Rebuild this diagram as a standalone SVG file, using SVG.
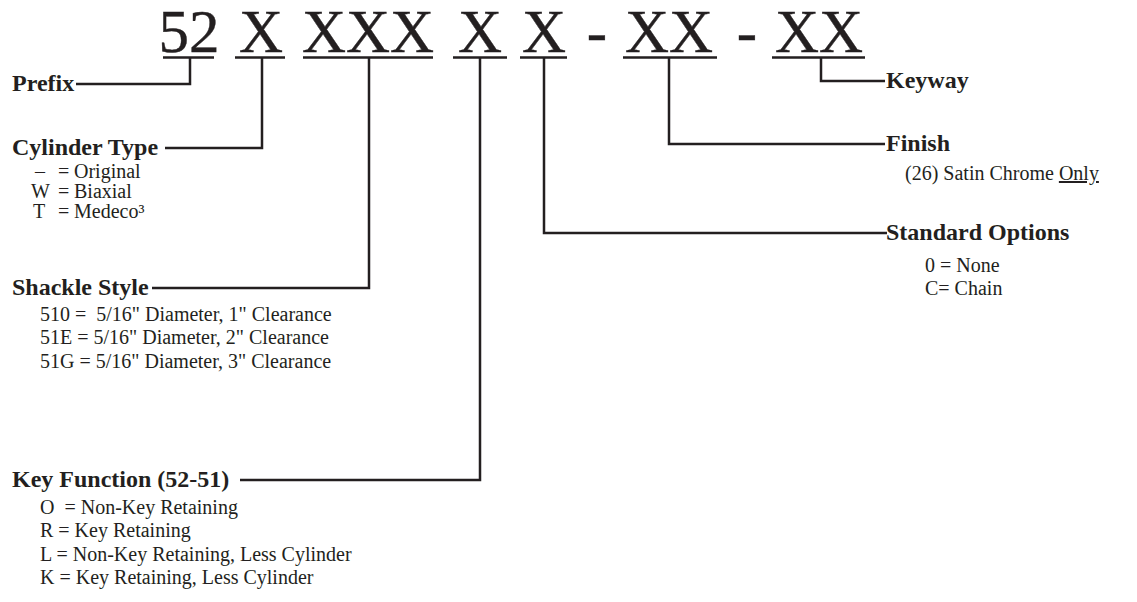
<svg xmlns="http://www.w3.org/2000/svg" width="1137" height="602" viewBox="0 0 1137 602">
<style>
.title{font-family:"Liberation Serif","Times New Roman",serif;font-size:61px;fill:#231f20;stroke:#231f20;stroke-width:0.4;text-anchor:middle}
.head{font-family:"Liberation Serif","Times New Roman",serif;font-size:24px;font-weight:bold;fill:#231f20}
.body{font-family:"Liberation Serif","Times New Roman",serif;font-size:20px;fill:#231f20;white-space:pre}
.ul{stroke:#231f20;stroke-width:2.5;fill:none}
.conn{stroke:#231f20;stroke-width:2.5;fill:none}
</style>
<rect width="1137" height="602" fill="#fff"/>
<g id="code">
<text class="title" x="189" y="52">52</text>
<text class="title" x="261" y="52">X</text>
<text class="title" x="368" y="52">XXX</text>
<text class="title" x="480" y="52">X</text>
<text class="title" x="544" y="52">X</text>
<text class="title" x="597" y="52">-</text>
<text class="title" x="669" y="52">XX</text>
<text class="title" x="747" y="52">-</text>
<text class="title" x="819" y="52">XX</text>
<path class="ul" d="M163,57.5H214M235,57.5H285M303,57.5H433M453,57.5H507M520,57.5H567M623,57.5H717M772,57.5H865"/>
</g>
<g id="connectors">
<path class="conn" d="M190,57.5V84H76"/>
<path class="conn" d="M262,57.5V148H165"/>
<path class="conn" d="M369,57.5V288H152"/>
<path class="conn" d="M480,57.5V480H240"/>
<path class="conn" d="M544,57.5V233H887"/>
<path class="conn" d="M669,57.5V144H885"/>
<path class="conn" d="M821,57.5V81H885"/>
</g>
<g id="prefix">
<text class="head" x="12" y="91">Prefix</text>
</g>
<g id="cylinder-type">
<text class="head" x="12" y="155">Cylinder Type</text>
<text class="body" y="178"><tspan x="35">–</tspan><tspan x="58">=</tspan><tspan x="74">Original</tspan></text>
<text class="body" y="198"><tspan x="31">W</tspan><tspan x="58">=</tspan><tspan x="74">Biaxial</tspan></text>
<text class="body" y="218"><tspan x="33">T</tspan><tspan x="58">=</tspan><tspan x="74">Medeco³</tspan></text>
</g>
<g id="shackle-style">
<text class="head" x="12" y="295">Shackle Style</text>
<text class="body" x="40" y="321">510 =  5/16" Diameter, 1" Clearance</text>
<text class="body" x="40" y="344">51E = 5/16" Diameter, 2" Clearance</text>
<text class="body" x="40" y="368">51G = 5/16" Diameter, 3" Clearance</text>
</g>
<g id="key-function">
<text class="head" x="12" y="487">Key Function (52-51)</text>
<text class="body" x="40" y="514">O  = Non-Key Retaining</text>
<text class="body" x="40" y="537">R = Key Retaining</text>
<text class="body" x="40" y="561">L = Non-Key Retaining, Less Cylinder</text>
<text class="body" x="40" y="584">K = Key Retaining, Less Cylinder</text>
</g>
<g id="keyway">
<text class="head" x="886" y="88">Keyway</text>
</g>
<g id="finish">
<text class="head" x="886" y="151">Finish</text>
<text class="body" x="905" y="180">(26) Satin Chrome <tspan text-decoration="underline">Only</tspan></text>
</g>
<g id="standard-options">
<text class="head" x="886" y="240">Standard Options</text>
<text class="body" x="925" y="272">0 = None</text>
<text class="body" x="925" y="295">C= Chain</text>
</g>
</svg>
